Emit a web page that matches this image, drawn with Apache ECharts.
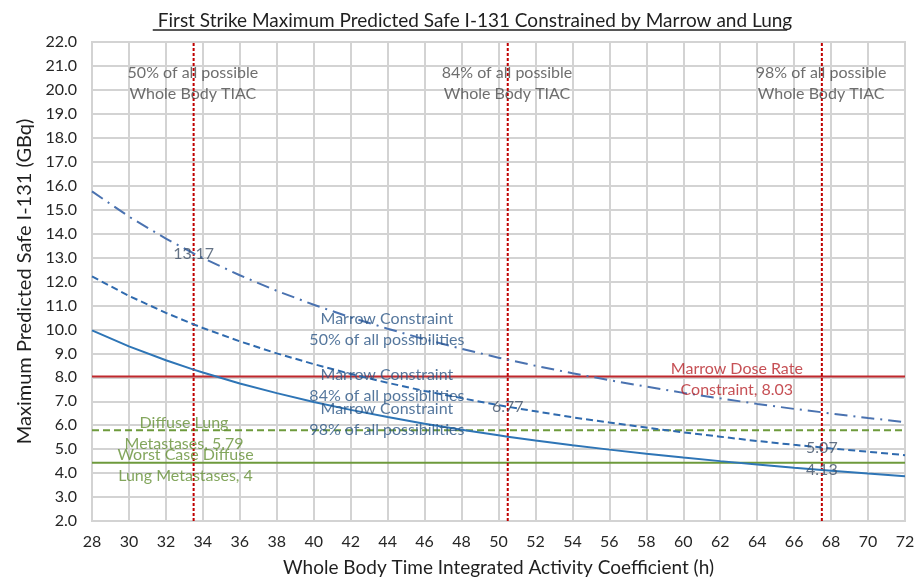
<!DOCTYPE html>
<html>
<head>
<meta charset="utf-8">
<script src="https://cdn.jsdelivr.net/npm/echarts@6/dist/echarts.min.js"></script>
<style>
html,body{margin:0;padding:0;background:#fff;}
#c{width:914px;height:579px;}
</style>
</head>
<body>
<div id="c"></div>
<script>
// ---- data ----
var xValues = [28,30,32,33.5,34,36,38,40,42,44,46,48,50,50.5,52,54,56,58,60,62,64,66,67.5,68,70,72];
// Marrow constraint, 50% of all possibilities (dash-dot)
var marrow50 = [15.76,14.71,13.79,13.17,12.98,12.26,11.61,11.03,10.50,10.03,9.59,9.19,8.82,8.74,8.48,8.17,7.88,7.61,7.35,7.12,6.89,6.68,6.54,6.49,6.30,6.13];
// Marrow constraint, 84% of all possibilities (dashed)
var marrow84 = [12.21,11.40,10.69,10.21,10.06,9.50,9.00,8.55,8.14,7.77,7.43,7.13,6.84,6.77,6.58,6.33,6.11,5.90,5.70,5.52,5.34,5.18,5.07,5.03,4.89,4.75];
// Marrow constraint, 98% of all possibilities (solid)
var marrow98 = [9.96,9.29,8.71,8.32,8.20,7.74,7.34,6.97,6.64,6.34,6.06,5.81,5.58,5.52,5.36,5.16,4.98,4.81,4.65,4.50,4.36,4.22,4.13,4.10,3.98,3.87];
// x positions where a value label is shown, per series
var labelled50 = [33.5];
var labelled84 = [50.5, 67.5];
var labelled98 = [67.5];
// horizontal constraints
var doseRateConstraint = 8.03;
var diffuseLung = 5.79;
var worstCaseLungLine = 4.43;
// vertical percentiles of whole body TIAC
var tiacPercentiles = [33.5, 50.5, 67.5];
var tiacLabels = ['50% of all possible\nWhole Body TIAC','84% of all possible\nWhole Body TIAC','98% of all possible\nWhole Body TIAC'];
var xRange = [28, 72];
var yRange = [2, 22];

// ---- annotations (text anchored in data coordinates) ----
var annotations = [
  {text:'Marrow Constraint\n50% of all possibilities', at:[43.96,10.0], color:'#2A5585'},
  {text:'Marrow Constraint\n84% of all possibilities', at:[43.96,7.68], color:'#2A5585'},
  {text:'Marrow Constraint\n98% of all possibilities', at:[43.96,6.26], color:'#2A5585'},
  {text:'Marrow Dose Rate\nConstraint, 8.03', at:[62.9,7.93], color:'#B8242A'},
  {text:'Diffuse Lung\nMetastases, 5.79', at:[32.98,5.67], color:'#649034'},
  {text:'Worst Case Diffuse\nLung Metastases, 4', at:[33.06,4.34], color:'#649034'}
];
tiacPercentiles.forEach(function(x,i){
  annotations.push({text:tiacLabels[i], at:[x-0.04,20.27], color:'#4A4A4A'});
});

var FONT = 'Lato, "Open Sans", sans-serif';
var TITLE = 'First Strike Maximum Predicted Safe I-131 Constrained by Marrow and Lung';

function pairs(vals){
  return xValues.map(function(x,i){ return [x, vals[i]]; });
}
function labelPoints(vals, labelled){
  return labelled.map(function(x){ var i = xValues.indexOf(x); return [x, vals[i]]; });
}

function hLine(y, color, type){
  return {
    type:'line', data:[[xRange[0],y],[xRange[1],y]], symbol:'none', silent:true,
    lineStyle:{color:color, width:2, type:type}, z:3
  };
}

var series = [
  hLine(doseRateConstraint, '#C0282D', 'solid'),
  hLine(diffuseLung, '#6E9A3C', [7,4]),
  hLine(worstCaseLungLine, '#6E9A3C', 'solid')
];
tiacPercentiles.forEach(function(x){
  series.push({
    type:'line', data:[[x,yRange[0]],[x,yRange[1]]], symbol:'none', silent:true,
    lineStyle:{color:'#C00000', width:2, type:[3,2]}, z:4
  });
});
series.push({
  type:'line', data:pairs(marrow50), symbol:'none', silent:true,
  lineStyle:{color:'#4A72B0', width:2, type:[13,6,2,6]}, z:5
});
series.push({
  type:'line', data:pairs(marrow84), symbol:'none', silent:true,
  lineStyle:{color:'#2F6AAE', width:2, type:[7,4]}, z:5
});
series.push({
  type:'line', data:pairs(marrow98), symbol:'none', silent:true,
  lineStyle:{color:'#2E75B6', width:2, type:'solid'}, z:5
});
// value labels on chosen points
var valuePts = [].concat(labelPoints(marrow50, labelled50), labelPoints(marrow84, labelled84), labelPoints(marrow98, labelled98));
series.push({
  type:'scatter', symbolSize:0, silent:true, z:9,
  data:valuePts,
  label:{show:true, position:'inside', formatter:function(p){return p.value[1].toFixed(2);},
    color:'#3E5068', fontSize:16, fontFamily:FONT}
});

series.push({
  type:'scatter', symbolSize:0, silent:true, z:10,
  data: annotations.map(function(a){
    return {value:a.at, label:{show:true, position:'inside', formatter:a.text, color:a.color,
      fontSize:16, lineHeight:21, fontFamily:FONT, align:'center', verticalAlign:'middle'}};
  })
});

var ctx = document.createElement('canvas').getContext('2d');
ctx.font = '19px ' + FONT;
var tw = ctx.measureText(TITLE).width;

var chart = echarts.init(document.getElementById('c'));
chart.setOption({
  animation:false,
  backgroundColor:'#fff',
  title:{
    text:TITLE, left:470 - tw/2, top:6,
    textStyle:{fontFamily:FONT, fontSize:19, fontWeight:'normal', color:'#1F1F1F'}
  },
  graphic:[{type:'line', shape:{x1:470-tw/2, y1:30, x2:470+tw/2, y2:30}, style:{stroke:'#1F1F1F', lineWidth:1.3}, silent:true}],
  grid:{left:92, right:9, top:42, bottom:58, show:true, borderColor:'#D3D3D3', borderWidth:2, outerBoundsMode:'none', containLabel:false},
  xAxis:{
    type:'value', min:xRange[0], max:xRange[1], interval:2,
    name:'Whole Body Time Integrated Activity Coefficient (h)', nameLocation:'middle', nameGap:37,
    nameTextStyle:{fontFamily:FONT, fontSize:19, color:'#1F1F1F'},
    axisLine:{show:false}, axisTick:{show:false},
    axisLabel:{fontFamily:FONT, fontSize:16, color:'#262626', margin:13},
    splitLine:{show:true, lineStyle:{color:'#D3D3D3', width:2}}
  },
  yAxis:{
    type:'value', min:yRange[0], max:yRange[1], interval:1,
    name:'Maximum Predicted Safe I-131 (GBq)', nameLocation:'middle', nameGap:57,
    nameTextStyle:{fontFamily:FONT, fontSize:20, color:'#1F1F1F'},
    axisLine:{show:false}, axisTick:{show:false},
    axisLabel:{fontFamily:FONT, fontSize:16, color:'#262626', margin:15, formatter:function(v){return v.toFixed(1);}},
    splitLine:{show:true, lineStyle:{color:'#D3D3D3', width:2}}
  },
  series:series
});
</script>
</body>
</html>
